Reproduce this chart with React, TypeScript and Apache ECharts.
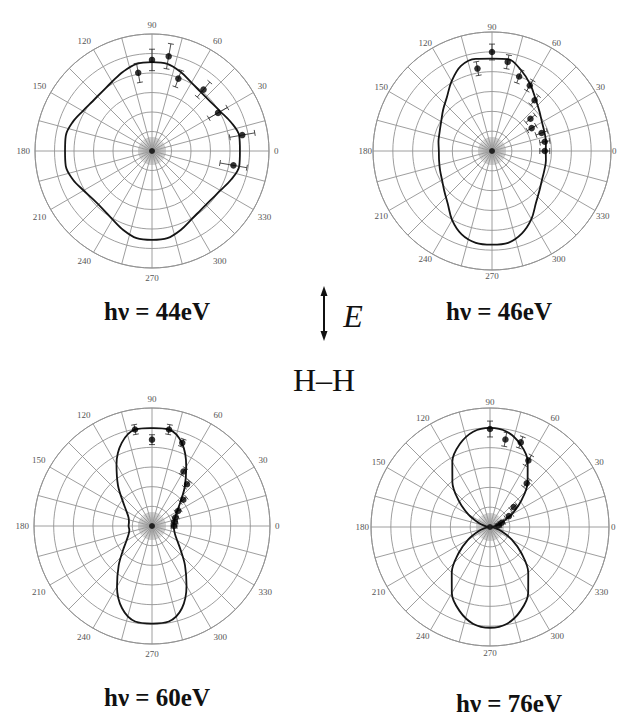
import React, { useEffect, useRef } from "react";
import * as echarts from "echarts";

// Photoelectron angular distributions of the H–H system, four photon energies.
// Radii are in units of the polar grid rings (6 rings per plot).

const curveAngles = [
  0, 10, 20, 30, 40, 50, 60, 70, 80, 90, 100, 110, 120, 130, 140, 150, 160, 170, 180,
  190, 200, 210, 220, 230, 240, 250, 260, 270, 280, 290, 300, 310, 320, 330, 340, 350, 360,
];

// hν = 44 eV — fitted curve
const curve44 = [
  4.51, 4.54, 4.31, 4.05, 3.92, 3.92, 4.05, 4.31, 4.54, 4.56, 4.54, 4.33, 4.1, 3.97, 3.97,
  4.1, 4.33, 4.49, 4.46, 4.49, 4.31, 4.05, 3.9, 3.9, 4.05, 4.31, 4.54, 4.56, 4.54, 4.31,
  4.05, 3.92, 3.92, 4.05, 4.31, 4.54, 4.51,
];
// hν = 46 eV — fitted curve
const curve46 = [
  2.71, 2.76, 2.81, 2.91, 3.12, 3.42, 3.87, 4.32, 4.7, 4.66, 4.72, 4.57, 4.07, 3.54, 3.22,
  2.96, 2.81, 2.74, 2.68, 2.71, 2.79, 2.91, 3.14, 3.47, 4.02, 4.47, 4.7, 4.72, 4.7, 4.42,
  3.97, 3.44, 3.12, 2.91, 2.81, 2.76, 2.71,
];
// hν = 60 eV — fitted curve
const curve60 = [
  1.1, 1.14, 1.25, 1.47, 1.88, 2.59, 3.48, 4.47, 4.98, 4.98, 4.98, 4.5, 3.61, 2.69, 1.93,
  1.5, 1.27, 1.19, 1.19, 1.17, 1.27, 1.5, 1.93, 2.64, 3.56, 4.45, 4.93, 4.96, 4.93, 4.45,
  3.51, 2.61, 1.9, 1.48, 1.25, 1.14, 1.1,
];
// hν = 76 eV — fitted curve
const curve76 = [
  0.08, 0.2, 0.6, 1.25, 2.05, 2.95, 3.8, 4.45, 4.88, 5.0, 4.88, 4.45, 3.8, 2.95, 2.05, 1.25,
  0.6, 0.2, 0.08, 0.2, 0.6, 1.27, 2.08, 3.0, 3.85, 4.5, 4.95, 5.08, 4.95, 4.5, 3.85, 3.0,
  2.08, 1.27, 0.6, 0.2, 0.08,
];

// Measured points: angle (deg), intensity, error
const pts44Angle = [90, 80, 100, 70, 50, 30, 10, 350];
const pts44Value = [4.67, 4.93, 4.07, 3.95, 4.11, 3.91, 4.7, 4.24];
const pts44Error = [0.55, 0.65, 0.5, 0.45, 0.5, 0.55, 0.65, 0.7];

const pts46Angle = [90, 100, 80, 70, 60, 50, 40, 30, 20, 10, 0];
const pts46Value = [4.99, 4.22, 4.56, 4.0, 3.81, 3.34, 2.53, 2.31, 2.66, 2.7, 2.66];
const pts46Error = [0.4, 0.35, 0.35, 0.35, 0.3, 0.3, 0.3, 0.25, 0.3, 0.25, 0.25];

const pts60Angle = [100, 90, 80, 70, 60, 50, 40, 30, 20, 10, 0];
const pts60Value = [4.98, 4.39, 4.98, 4.5, 3.2, 2.77, 2.08, 1.53, 1.27, 1.17, 1.12];
const pts60Error = [0.25, 0.25, 0.25, 0.2, 0.2, 0.2, 0.2, 0.15, 0.15, 0.15, 0.15];

const pts76Angle = [90, 80, 70, 60, 50, 40, 30, 20, 10];
const pts76Value = [4.94, 4.48, 4.54, 3.87, 2.88, 1.56, 1.1, 0.63, 0.43];
const pts76Error = [0.4, 0.35, 0.3, 0.3, 0.25, 0.2, 0.2, 0.15, 0.15];

const energyLabels = ["hν = 44eV", "hν = 46eV", "hν = 60eV", "hν = 76eV"];

const SERIF = "'Liberation Serif', 'DejaVu Serif', serif";
const GRID = "#939393";

const panels = [
  { center: [152, 151], radius: 117, labelGap: 5, curve: curve44, a: pts44Angle, v: pts44Value, e: pts44Error, label: [157, 311] },
  { center: [492, 151], radius: 119, labelGap: 1, curve: curve46, a: pts46Angle, v: pts46Value, e: pts46Error, label: [499, 311] },
  { center: [152, 526], radius: 118, labelGap: 5, curve: curve60, a: pts60Angle, v: pts60Value, e: pts60Error, label: [157, 697] },
  { center: [490, 527], radius: 119, labelGap: 2, curve: curve76, a: pts76Angle, v: pts76Value, e: pts76Error, label: [509, 703] },
];

function buildOption() {
  const polar: any[] = [];
  const angleAxis: any[] = [];
  const radiusAxis: any[] = [];
  const series: any[] = [];
  const graphic: any[] = [];

  panels.forEach((p, i) => {
    const main = i * 2;
    const inner = i * 2 + 1;
    polar.push({ center: p.center, radius: p.radius });
    polar.push({ center: p.center, radius: 14 });

    angleAxis.push({
      polarIndex: main,
      type: "value",
      min: 0,
      max: 360,
      interval: 15,
      startAngle: 0,
      clockwise: false,
      axisLine: { show: true, lineStyle: { color: GRID, width: 1 } },
      axisTick: { show: false },
      splitLine: { show: true, lineStyle: { color: GRID, width: 0.9 } },
      axisLabel: {
        margin: p.labelGap,
        fontSize: 9,
        color: "#555",
        fontFamily: SERIF,
        formatter: (v: number) => (v % 30 === 0 && v < 360 ? String(v) : ""),
      },
    });
    radiusAxis.push({
      polarIndex: main,
      type: "value",
      min: 0,
      max: 6,
      interval: 1,
      axisLine: { show: false },
      axisTick: { show: false },
      axisLabel: { show: false },
      splitLine: { show: true, lineStyle: { color: GRID, width: 0.9 } },
    });

    // fine spokes near the origin
    angleAxis.push({
      polarIndex: inner,
      type: "value",
      min: 0,
      max: 360,
      interval: 5,
      startAngle: 0,
      clockwise: false,
      axisLine: { show: false },
      axisTick: { show: false },
      axisLabel: { show: false },
      splitLine: { show: true, lineStyle: { color: "#9a9a9a", width: 0.6 } },
    });
    radiusAxis.push({
      polarIndex: inner,
      type: "value",
      min: 0,
      max: 1,
      axisLine: { show: false },
      axisTick: { show: false },
      axisLabel: { show: false },
      splitLine: { show: false },
    });

    // dark hub where the spokes meet
    graphic.push({
      type: "circle",
      shape: { cx: p.center[0], cy: p.center[1], r: 3 },
      style: { fill: "#222" },
      z: 1,
    });

    series.push({
      type: "line",
      coordinateSystem: "polar",
      polarIndex: main,
      data: curveAngles.map((ang, k) => [p.curve[k], ang]),
      smooth: 0.35,
      showSymbol: false,
      lineStyle: { color: "#151515", width: 1.8 },
      z: 3,
    });
    series.push({
      type: "custom",
      coordinateSystem: "polar",
      polarIndex: main,
      encode: { radius: 0, angle: 1 },
      data: p.a.map((ang, k) => [p.v[k], ang, p.e[k]]),
      renderItem: (_params: any, api: any) => {
        const r = api.value(0);
        const ang = api.value(1);
        const err = api.value(2);
        const p1 = api.coord([r - err, ang]);
        const p2 = api.coord([r + err, ang]);
        const dx = p2[0] - p1[0];
        const dy = p2[1] - p1[1];
        const len = Math.hypot(dx, dy) || 1;
        const nx = (-dy / len) * 3;
        const ny = (dx / len) * 3;
        const style = { stroke: "#222", lineWidth: 0.8 };
        return {
          type: "group",
          children: [
            { type: "line", shape: { x1: p1[0], y1: p1[1], x2: p2[0], y2: p2[1] }, style },
            { type: "line", shape: { x1: p1[0] - nx, y1: p1[1] - ny, x2: p1[0] + nx, y2: p1[1] + ny }, style },
            { type: "line", shape: { x1: p2[0] - nx, y1: p2[1] - ny, x2: p2[0] + nx, y2: p2[1] + ny }, style },
          ],
        };
      },
      z: 4,
    });
    series.push({
      type: "scatter",
      coordinateSystem: "polar",
      polarIndex: main,
      data: p.a.map((ang, k) => [p.v[k], ang]),
      symbol: "circle",
      symbolSize: 6.5,
      itemStyle: { color: "#000" },
      z: 5,
    });

    graphic.push({
      type: "text",
      x: p.label[0],
      y: p.label[1],
      style: {
        text: energyLabels[i],
        font: `bold 25px ${SERIF}`,
        fill: "#111",
        align: "center",
        verticalAlign: "middle",
      },
    });
  });

  // polarisation vector E
  graphic.push(
    { type: "line", shape: { x1: 324, y1: 292, x2: 324, y2: 336 }, style: { stroke: "#111", lineWidth: 2 } },
    { type: "polygon", shape: { points: [[324, 286], [320.5, 296], [327.5, 296]] }, style: { fill: "#111" } },
    { type: "polygon", shape: { points: [[324, 341], [320.5, 331], [327.5, 331]] }, style: { fill: "#111" } },
    {
      type: "text",
      x: 353,
      y: 316,
      style: { text: "E", font: `italic 32px ${SERIF}`, fill: "#111", align: "center", verticalAlign: "middle" },
    },
    {
      type: "text",
      x: 324,
      y: 380,
      style: { text: "H–H", font: `32px ${SERIF}`, fill: "#111", align: "center", verticalAlign: "middle" },
    }
  );

  return {
    animation: false,
    backgroundColor: "#fff",
    polar,
    angleAxis,
    radiusAxis,
    series,
    graphic,
  };
}

export default function App() {
  const ref = useRef<HTMLDivElement>(null);
  useEffect(() => {
    if (!ref.current) return;
    const chart = echarts.init(ref.current, undefined, { renderer: "svg" });
    chart.setOption(buildOption());
    return () => chart.dispose();
  }, []);
  return (
    <div
      ref={ref}
      style={{ position: "fixed", left: 0, top: 0, width: 617, height: 715, background: "#fff" }}
    />
  );
}
